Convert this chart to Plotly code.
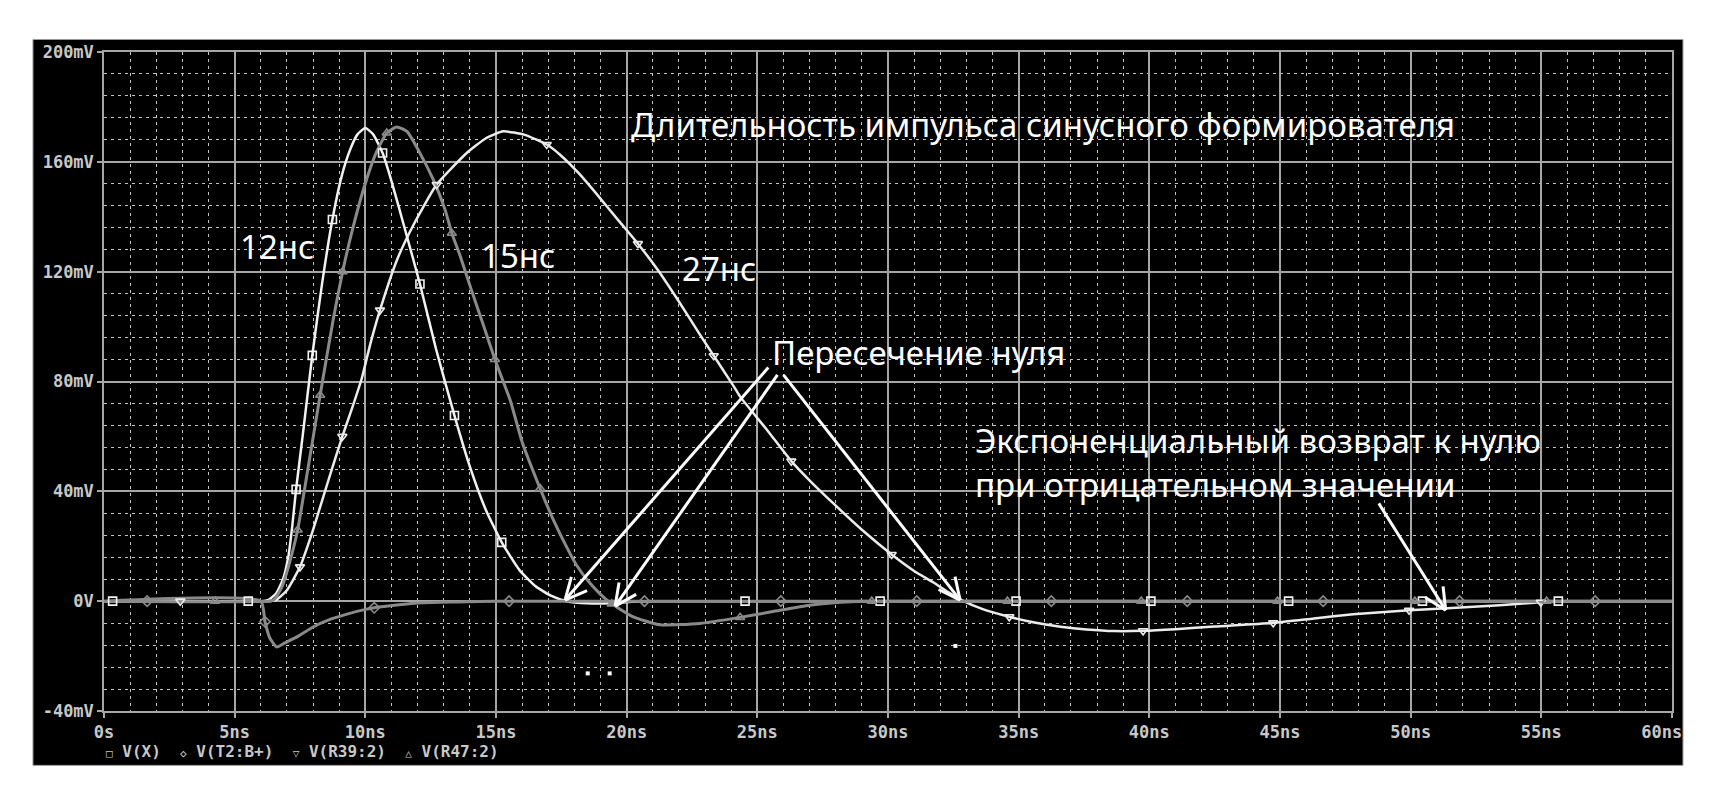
import math
import plotly.graph_objects as go

########### データ ###########
# 時間軸 ns / 電圧 mV

# V(X) 12нс
vx_t = [0, 6.0, 6.3, 6.6, 6.85, 7.05, 7.2, 7.35, 7.6, 7.97, 8.35, 8.74, 9.1, 9.4, 9.7, 10.0, 10.3, 10.66, 11.0, 11.5,
        12.09, 12.7, 13.41, 14.0, 14.6, 15.22, 15.9, 16.5, 17.1, 17.7, 18.5, 19.3, 20.2, 21.0, 60]
vx_v = [0, 0, 0.5, 3, 8, 16, 27, 40.7, 60, 89.5, 116, 139, 155, 164, 170, 172.3, 170, 163.2, 153, 136,
        115.5, 92, 67.6, 49, 33.5, 21.4, 11.3, 5.5, 2, 0, -0.8, -0.8, -0.2, 0, 0]

# V(T2:B+) 負のディップ
vt2_t = [0, 6.0, 6.16, 6.35, 6.61, 6.9, 7.4, 8.0, 8.6, 9.3, 10.05, 10.34, 11.2, 12.2, 13.5, 15.0, 60]
vt2_v = [0, 0, -7.5, -13.5, -16.7, -15.3, -12.9, -9.4, -6.8, -4.7, -2.9, -2.4, -1.4, -0.6, -0.3, 0, 0]

# V(R39:2) 27нс
vr39_t = [0, 6.3, 6.6, 7.0, 7.5, 8.0, 8.39, 8.75, 9.12, 9.5, 9.86, 10.2, 10.56, 11.2, 11.84, 12.73, 13.88, 14.6,
          15.28, 16.1, 16.94, 17.45, 18.2, 18.98, 19.7, 20.43, 21.2, 22.04, 22.81, 23.33, 24.08, 24.34, 25.4, 26.3,
          27.1, 27.91, 29.0, 30.14, 31.0, 31.74, 32.3, 32.8, 33.6, 34.64, 35.6, 36.6, 37.6, 38.66, 39.76, 41.0,
          42.5, 44.74, 46.3, 47.8, 49.94, 51.4, 53.4, 54.98, 56.2, 60]
vr39_v = [0, 0, 0.5, 4, 12.5, 26, 38, 49, 60, 70.5, 81, 94, 106, 124, 137, 151.7, 163.2, 168.5,
          171.1, 169.8, 166.3, 162.6, 155.5, 146.8, 138.5, 130.2, 120.5, 108.5, 97, 89.4, 78.5, 74.5, 62, 51,
          43, 35.6, 26, 17, 11, 6.8, 3.3, 0.5, -2.8, -5.7, -7.8, -9.3, -10.3, -10.9, -10.8, -10.2,
          -9.2, -7.9, -6.3, -4.8, -3.3, -2.6, -1.5, -0.4, 0, 0]

# V(R47:2) 15нс
vr47_t = [0, 6.3, 6.5, 6.8, 7.1, 7.41, 7.8, 8.27, 8.78, 9.13, 9.5, 9.93, 10.4, 10.82, 11.2, 11.6, 12.1, 12.6,
          13.05, 13.31, 13.62, 14.0, 14.5, 14.96, 15.55, 16.0, 16.69, 17.2, 17.77, 18.09, 18.6, 19.0, 19.3,
          19.6, 20.25, 21.28, 22.8, 24.34, 25.6, 27.0, 28.2, 29.0, 60]
vr47_v = [0, 0, 0.5, 5, 14, 25.9, 48, 75, 103, 120, 135, 150, 163, 170.5, 172.7, 171, 163, 153.5,
          142.6, 134, 126, 115, 101, 88, 73, 58, 41, 29.5, 18.5, 13, 6.5, 2.5, 0,
          -2, -5.7, -8.6, -8.1, -5.9, -3.8, -1.5, -0.4, 0, 0]

# マーカー位置
vx_mk_t = [0.33, 5.52, 7.35, 7.97, 8.74, 10.66, 12.09, 13.41, 15.22, 24.53, 29.7, 34.9, 40.06, 45.33, 50.45, 55.65]
vx_mk_v = [0, 0, 40.7, 89.5, 139, 163.2, 115.5, 67.6, 21.4, 0, 0, 0, 0, 0, 0, 0]
vt2_mk_t = [1.65, 6.16, 10.34, 15.5, 20.68, 25.9, 31.1, 36.25, 41.45, 46.65, 51.87, 57.06]
vt2_mk_v = [0, -7.5, -2.4, 0, 0, 0, 0, 0, 0, 0, 0, 0]
vr39_mk_t = [2.92, 7.5, 9.12, 10.56, 12.73, 16.94, 20.43, 23.33, 26.3, 30.14, 34.64, 39.76, 44.74, 49.94, 54.98]
vr39_mk_v = [0, 12.5, 60, 106, 151.7, 166.3, 130.2, 89.4, 51, 17, -5.7, -10.8, -7.9, -3.3, -0.4]
vr47_mk_t = [4.25, 7.41, 8.27, 9.13, 10.82, 13.31, 14.96, 16.69, 19.43, 24.34, 29.38, 34.57, 39.69, 44.9, 50.16, 55.2]
vr47_mk_v = [0, 25.9, 75, 120, 170.5, 134, 88, 41, -1.0, -5.9, 0, 0, 0, 0, 0, 0]

# 画面上の点ノイズ
dot_t = [18.51, 19.35, 32.58]
dot_v = [-26.3, -26.3, -16.3]

# 目盛り
x_ticks = [0, 5, 10, 15, 20, 25, 30, 35, 40, 45, 50, 55, 60]
x_labels = ['0s', '5ns', '10ns', '15ns', '20ns', '25ns', '30ns', '35ns', '40ns', '45ns', '50ns', '55ns',
            '60ns' + '\u00a0' * 2]
y_ticks = [-40, 0, 40, 80, 120, 160, 200]
y_labels = ['-40mV', '0V', '40mV', '80mV', '120mV', '160mV', '200mV']
x_minor = [t for t in range(0, 61) if t % 5 != 0]
y_minor = [v for v in range(-40, 201, 8) if v % 40 != 0]

legend_names = ['V(X)', 'V(T2:B+)', 'V(R39:2)', 'V(R47:2)']
legend_syms = ['□', '◇', '▽', '△']

WHITE = '#f2f2f2'
GRAY = '#8a8a8a'
GRID = '#a6a6a6'
TXT = '#c8c8c8'
#####################################

# ページ余白(8px)を考慮したサイズ
W, H = 1700, 790
ML, MR, MT, MB = 96, 36, 44, 87
PX_NS = (W - ML - MR) / 60
PX_MV = (H - MT - MB) / 240

fig = go.Figure()

series = [
  ('V(R39:2)', vr39_t, vr39_v, vr39_mk_t, vr39_mk_v, '#ececec', 'triangle-down-open', 2.5),
  ('V(X)', vx_t, vx_v, vx_mk_t, vx_mk_v, WHITE, 'square-open', 2.5),
  ('V(T2:B+)', vt2_t, vt2_v, vt2_mk_t, vt2_mk_v, GRAY, 'diamond-open', 3),
  ('V(R47:2)', vr47_t, vr47_v, vr47_mk_t, vr47_mk_v, GRAY, 'triangle-up-open', 3),
]
for name, t, v, mt, mv, col, sym, w in series:
  fig.add_trace(go.Scatter(x=t, y=v, mode='lines', name=name, line=dict(color=col, width=w),
                           showlegend=False, line_shape='spline', line_smoothing=0.5))
for name, t, v, mt, mv, col, sym, w in series:
  fig.add_trace(go.Scatter(x=mt, y=mv, mode='markers', name=name,
                           marker=dict(symbol=sym, size=8, color=col, line=dict(color=col, width=1.6)),
                           showlegend=False))

fig.add_trace(go.Scatter(x=dot_t, y=dot_v, mode='markers', marker=dict(symbol='square', size=4, color='white'),
                         showlegend=False))

# 文字
txt_font = dict(family='Noto Sans', size=33, color='white')
labels = [
  ('Длительность импульса синусного формирователя', 20.09, 173.5),
  ('12нс', 5.13, 129.0),
  ('15нс', 14.35, 126.0),
  ('27нс', 22.05, 121.0),
  ('Пересечение нуля', 25.5, 90.5),
  ('Экспоненциальный возврат к нулю', 33.25, 58.5),
  ('при отрицательном значении', 33.25, 42.5),
]
for text, x, y in labels:
  fig.add_annotation(text=text, x=x, y=y, xanchor='left', yanchor='middle', showarrow=False, font=txt_font)

# 矢印 (先端 x,y / 根元 ax,ay) 開いたV字の矢じり
arrows = [
  (17.64, 0.4, 25.42, 85.1),
  (19.56, -1.8, 25.77, 82.4),
  (32.76, 0.4, 26.0, 82.4),
  (51.34, -3.3, 48.78, 35.6),
]
for x, y, ax, ay in arrows:
  fig.add_shape(type='line', x0=ax, y0=ay, x1=x, y1=y, line=dict(color='white', width=3))
  dx = (ax - x) * PX_NS
  dy = (ay - y) * PX_MV
  ang = math.atan2(dy, dx)
  for s in (-0.45, 0.45):
    wx = x + 24 * math.cos(ang + s) / PX_NS
    wy = y + 24 * math.sin(ang + s) / PX_MV
    fig.add_shape(type='line', x0=x, y0=y, x1=wx, y1=wy, line=dict(color='white', width=3))

# 凡例 (一行のテキスト)
legend_txt = '&nbsp;&nbsp;'.join(
  f"<span style='font-size:11px'>{s}</span>&nbsp;{n}" for s, n in zip(legend_syms, legend_names))
fig.add_annotation(text=legend_txt, x=0, xref='x', y=-0.061, yref='paper',
                   xanchor='left', yanchor='middle', showarrow=False,
                   font=dict(family='DejaVu Sans Mono', size=16, color=TXT, weight='bold'))

# 黒背景
fig.add_shape(type='rect', xref='paper', yref='paper', x0=-0.0453, x1=1.007, y0=-0.0825, y1=1.019,
              fillcolor='black', line=dict(color='#9a9a9a', width=1), layer='below')

axis_common = dict(
  showgrid=True, gridcolor=GRID, gridwidth=1.5, zeroline=False, automargin=False,
  showline=True, linecolor=GRID, linewidth=1.5, mirror=True,
  ticks='outside', ticklen=5, tickcolor=GRID, tickwidth=1.5,
  tickfont=dict(family='DejaVu Sans Mono', size=17, color=TXT, weight='bold'),
)
fig.update_xaxes(range=[0, 60], tickmode='array', tickvals=x_ticks, ticktext=x_labels,
                 ticklabeloverflow='allow',
                 minor=dict(tickmode='array', tickvals=x_minor, showgrid=True, gridcolor='#c4c4c4',
                            griddash='3px,4px', gridwidth=1.2, ticks=''),
                 **axis_common)
fig.update_yaxes(range=[-40, 200], tickmode='array', tickvals=y_ticks, ticktext=y_labels,
                 minor=dict(tickmode='array', tickvals=y_minor, showgrid=True, gridcolor='#c4c4c4',
                            griddash='3px,4px', gridwidth=1.2, ticks=''),
                 **axis_common)

fig.update_layout(
  width=W, height=H,
  paper_bgcolor='white', plot_bgcolor='black',
  margin=dict(l=ML, r=MR, t=MT, b=MB, autoexpand=False),
)

fig.write_html('out.html')
